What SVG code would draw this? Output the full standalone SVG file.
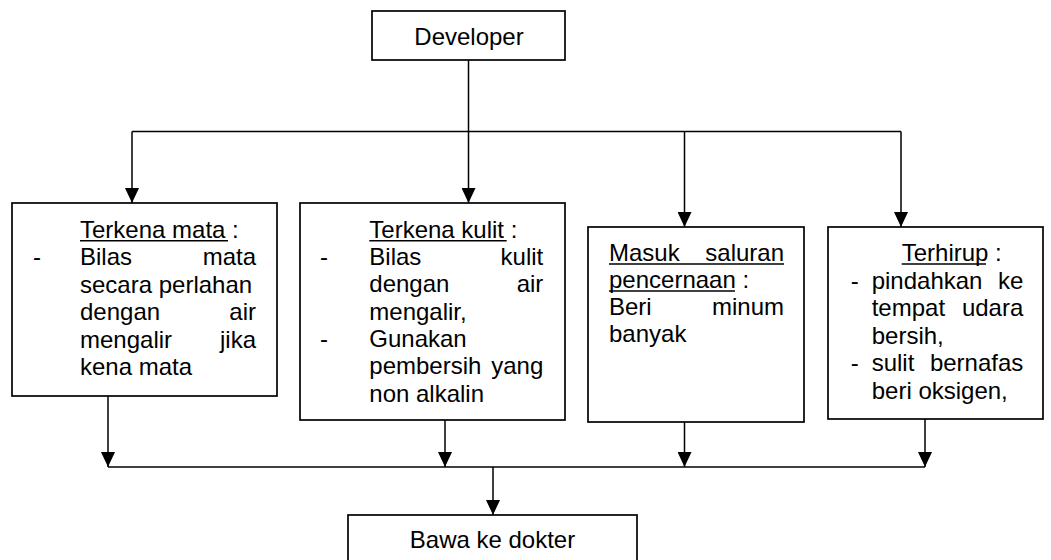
<svg xmlns="http://www.w3.org/2000/svg" width="1051" height="560" viewBox="0 0 1051 560">
  <style>
    .box { fill: #ffffff; stroke: #000000; stroke-width: 1.7; }
    .wire { fill: none; stroke: #000000; stroke-width: 1.5; }
    .arrow { fill: none; stroke: #000000; stroke-width: 1.5; marker-end: url(#head); }
    .ul { stroke: #000000; stroke-width: 1.4; }
    text { font-family: "Liberation Sans", Arial, sans-serif; font-size: 24px; fill: #000000; }
    .c { text-anchor: middle; }
    .r { text-anchor: end; }
  </style>
  <defs>
    <marker id="head" viewBox="0 0 15 14" refX="15" refY="7" markerWidth="15" markerHeight="14" markerUnits="userSpaceOnUse" orient="auto">
      <path d="M0,0 L15,7 L0,14 Z" fill="#000000"/>
    </marker>
  </defs>
  <rect width="1051" height="560" fill="#ffffff"/>

  <!-- connectors -->
  <g id="connectors">
    <path class="wire" d="M468.5,60 V131.5"/>
    <path class="wire" d="M132,131.5 H901"/>
    <path class="arrow" d="M132,131.5 V203"/>
    <path class="arrow" d="M468.5,131.5 V203"/>
    <path class="arrow" d="M684.5,131.5 V227"/>
    <path class="arrow" d="M901,131.5 V227"/>
    <path class="arrow" d="M108,396 V467"/>
    <path class="arrow" d="M445,420 V467"/>
    <path class="arrow" d="M684.5,422 V467"/>
    <path class="arrow" d="M925,418 V467"/>
    <path class="wire" d="M108,467 H925"/>
    <path class="arrow" d="M493,467 V515"/>
  </g>

  <g id="developer">
    <rect class="box" x="372" y="11" width="193" height="49"/>
    <text class="c" x="469" y="45">Developer</text>
  </g>

  <g id="terkena-mata">
    <rect class="box" x="12" y="203" width="265" height="193"/>
    <text x="80" y="237.5">Terkena mata :</text>
    <line class="ul" x1="80" y1="240.7" x2="228" y2="240.7"/>
    <text x="33" y="265">-</text>
    <text x="80" y="265">Bilas</text>
    <text class="r" x="256" y="265">mata</text>
    <text x="80" y="292.5">secara perlahan</text>
    <text x="80" y="320">dengan</text>
    <text class="r" x="256" y="320">air</text>
    <text x="80" y="347.5">mengalir</text>
    <text class="r" x="256" y="347.5">jika</text>
    <text x="80" y="375">kena mata</text>
  </g>

  <g id="terkena-kulit">
    <rect class="box" x="300" y="203" width="265" height="217"/>
    <text x="369.3" y="237.5">Terkena kulit :</text>
    <line class="ul" x1="369.3" y1="240.7" x2="506.7" y2="240.7"/>
    <text x="320" y="265">-</text>
    <text x="369.3" y="265">Bilas</text>
    <text class="r" x="543.3" y="265">kulit</text>
    <text x="369.3" y="292.3">dengan</text>
    <text class="r" x="543.3" y="292.3">air</text>
    <text x="369.3" y="319.6">mengalir,</text>
    <text x="320" y="346.9">-</text>
    <text x="369.3" y="346.9">Gunakan</text>
    <text x="369.3" y="374.2">pembersih</text>
    <text class="r" x="543.3" y="374.2">yang</text>
    <text x="369.3" y="401.5">non alkalin</text>
  </g>

  <g id="saluran-pencernaan">
    <rect class="box" x="588" y="227" width="216" height="195"/>
    <text x="609" y="261">Masuk</text>
    <text class="r" x="784" y="261">saluran</text>
    <line class="ul" x1="609" y1="264" x2="784" y2="264"/>
    <text x="609" y="288">pencernaan :</text>
    <line class="ul" x1="609" y1="291" x2="735" y2="291"/>
    <text x="609" y="315">Beri</text>
    <text class="r" x="784" y="315">minum</text>
    <text x="609" y="342">banyak</text>
  </g>

  <g id="terhirup">
    <rect class="box" x="828" y="227" width="215" height="192"/>
    <text x="901.7" y="261">Terhirup :</text>
    <line class="ul" x1="901.7" y1="264" x2="986" y2="264"/>
    <text x="850.7" y="288.5">-</text>
    <text x="871.7" y="288.5">pindahkan</text>
    <text class="r" x="1023.3" y="288.5">ke</text>
    <text x="871.7" y="316">tempat</text>
    <text class="r" x="1023.3" y="316">udara</text>
    <text x="871.7" y="343.5">bersih,</text>
    <text x="850.7" y="371">-</text>
    <text x="871.7" y="371">sulit</text>
    <text class="r" x="1023.3" y="371">bernafas</text>
    <text x="871.7" y="398.5">beri oksigen,</text>
  </g>

  <g id="bawa-ke-dokter">
    <rect class="box" x="348" y="515" width="289" height="60"/>
    <text class="c" x="492.5" y="548">Bawa ke dokter</text>
  </g>
</svg>
